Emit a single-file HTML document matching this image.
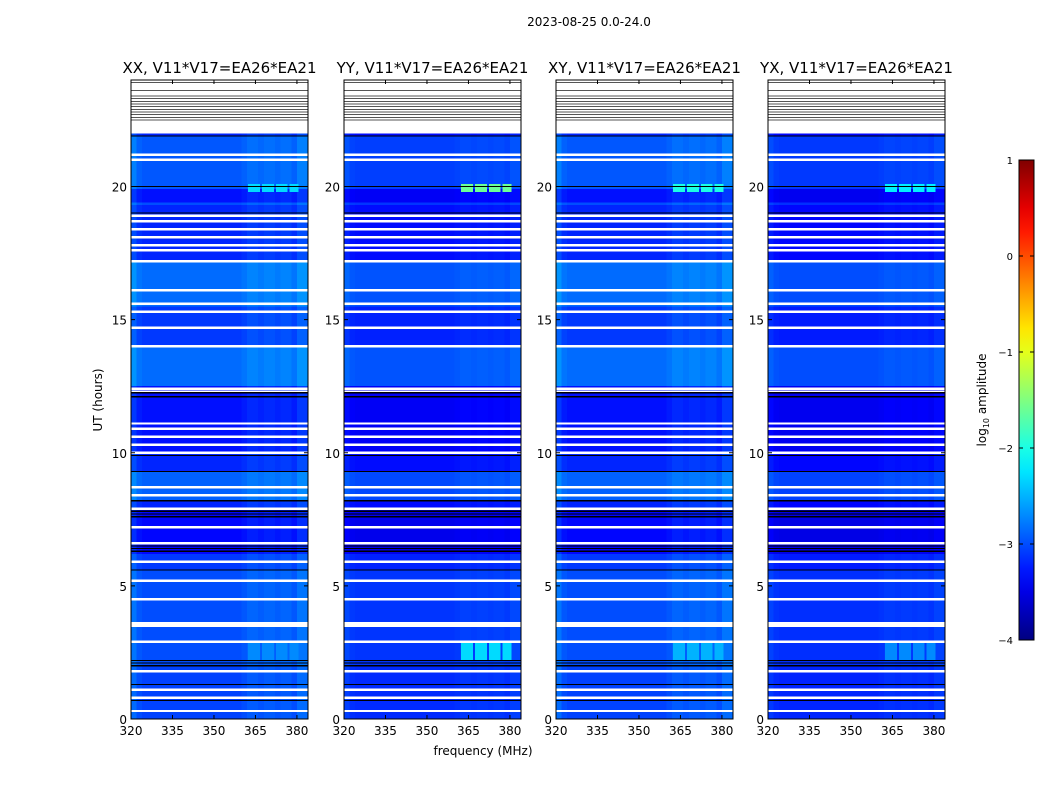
<!DOCTYPE html>
<html><head><meta charset="utf-8"><style>
body{margin:0;background:#fff;}
svg{display:block;font-family:"DejaVu Sans","Liberation Sans",sans-serif;}
</style></head><body>
<svg id="chart" width="1050" height="800" viewBox="0 0 1050 800" xmlns="http://www.w3.org/2000/svg">
<text x="589" y="26" font-size="12" text-anchor="middle">2023-08-25 0.0-24.0</text>
<text x="483" y="755" font-size="12" text-anchor="middle">frequency (MHz)</text>
<text transform="translate(102,400) rotate(-90)" font-size="12" text-anchor="middle">UT (hours)</text>
<g id="panels"></g>
<g id="cbar"></g>
</svg>
<script>
// ---- data ----
const panelTitles = ["XX, V11*V17=EA26*EA21","YY, V11*V17=EA26*EA21","XY, V11*V17=EA26*EA21","YX, V11*V17=EA26*EA21"];
const panelOffsets = [0, -0.12, 0, -0.15];
const xTicks = [320, 335, 350, 365, 380];
const yTicks = [0, 5, 10, 15, 20];
const cbarTicks = [1, 0, -1, -2, -3, -4];
// time segments: [startHour, endHour, log10 amplitude]
const segStart = [0, 2.0, 2.9, 5.6, 6.2, 7.9, 8.2, 9.3, 10.0, 12.5, 14.0, 15.5, 17.2, 19.3, 19.4, 19.9, 21.9];
const segEnd   = [2.0, 2.9, 5.6, 6.2, 7.9, 8.2, 9.3, 10.0, 12.5, 14.0, 15.5, 17.2, 19.3, 19.4, 19.9, 21.9, 22.0];
const segLevel = [-3.05, -3.0, -3.0, -3.1, -3.35, -3.2, -2.9, -3.2, -3.3, -2.85, -3.1, -2.85, -3.2, -3.0, -3.3, -2.95, -3.2];
// channel offsets (32 channels, 2 MHz each, 320-384 MHz)
const chanOffsets = [0.2,0.05,0,0,0,0,0,0,0,0,0,0,0,0,0,0,0,0,0,0,0.05,0.12,0.12,0.08,0.12,0.12,0.08,0.12,0.12,0.05,0.2,0.2];
// flagged (white) hours
const whiteHours = [0.3,0.8,1.1,1.8,2.9,3.5,3.6,4.5,5.2,5.9,6.6,7.2,7.9,8.4,8.7,10.0,10.3,10.6,10.9,11.1,12.3,12.4,14.0,14.7,15.3,15.6,16.1,17.2,17.6,17.8,18.1,18.4,18.7,18.9,21.0,21.2];
const blackHours = [0.7,1.3,2.0,2.1,2.2,5.6,6.3,6.4,6.5,7.6,7.7,7.8,8.2,9.3,9.9,12.1,12.25,19.0,20.0,21.9];
// RFI patches
const rfiPanel = [0,1,2,3,0,1,2,3];
const rfiH0 = [19.8,19.8,19.8,19.8,2.2,2.2,2.2,2.2];
const rfiH1 = [20.1,20.1,20.1,20.1,2.9,2.9,2.9,2.9];
const rfiLev = [-2.3,-1.6,-2.0,-2.2,-2.7,-2.3,-2.5,-2.7];
const topLines = [22.5,22.6,22.7,22.8,22.9,23.0,23.1,23.2,23.3,23.4,23.6,23.9];

const NS="http://www.w3.org/2000/svg";
function jet(v){
  const r=Math.min(Math.max(1.5-Math.abs(4*v-3),0),1);
  const g=Math.min(Math.max(1.5-Math.abs(4*v-2),0),1);
  const b=Math.min(Math.max(1.5-Math.abs(4*v-1),0),1);
  return `rgb(${Math.round(r*255)},${Math.round(g*255)},${Math.round(b*255)})`;
}
function col(l){return jet((l+4)/5);}
function mk(tag,attrs,parent){const e=document.createElementNS(NS,tag);for(const k in attrs)e.setAttribute(k,attrs[k]);parent.appendChild(e);return e;}
const panelX=[131,344,556,768], PW=177, PT=80, PB=719;
const yS=h=>PB-(h/24)*(PB-PT);
const xS=(px,f)=>px+(f-320)/64*PW;
const root=document.getElementById('panels');
panelX.forEach((px,p)=>{
  const g=mk('g',{},root);
  
  
  const t=mk('text',{x:px+PW/2,y:73,'font-size':15,'text-anchor':'middle'},g);
  t.textContent=panelTitles[p];
  
  
  const hm=mk('g',{'shape-rendering':'crispEdges'},g);
  
  
  for(let s=0;s<segStart.length;s++){
    for(let c=0;c<chanOffsets.length;c++){
      let l=segLevel[s]+panelOffsets[p]+((p==1||p==3)?chanOffsets[c]*0.5:chanOffsets[c]);
      const r=mk('rect',{x:xS(px,320+2*c),y:yS(segEnd[s]),width:PW/32+0.5,height:yS(segStart[s])-yS(segEnd[s]),fill:col(l)},hm);
      
      
    }
  }
  for(let i=0;i<rfiPanel.length;i++){ if(rfiPanel[i]!==p) continue;
    [[362,367],[367,372],[372,377],[377,381]].forEach(([f0,f1])=>{
      const r=mk('rect',{x:xS(px,f0)+1,y:yS(rfiH1[i]),width:xS(px,f1)-xS(px,f0)-2,height:yS(rfiH0[i])-yS(rfiH1[i]),fill:col(rfiLev[i])},hm);
      
      
    });
  }
  whiteHours.forEach(h=>{const r=mk('rect',{x:px,y:yS(h)-1.2,width:PW,height:2.4,fill:'#fff'},hm);
    
    });
  blackHours.forEach(h=>{const r=mk('rect',{x:px,y:yS(h)-0.6,width:PW,height:1.2,fill:'#000'},hm);
    
    });
  const tr=mk('rect',{x:px,y:PT,width:PW,height:yS(22)-PT,fill:'#fff'},hm);
  
  
  topLines.forEach(h=>{const r=mk('rect',{x:px,y:yS(h)-0.5,width:PW,height:1,fill:'#555','stroke-dasharray':'1 1'},hm);
    
    });
  const fr=mk('rect',{x:px,y:PT,width:PW,height:PB-PT,fill:'none',stroke:'#000','stroke-width':1},g);
  
  
  xTicks.forEach(f=>{const x=xS(px,f);
    mk('line',{x1:x,x2:x,y1:PB,y2:PB-4,stroke:'#000'},g);mk('line',{x1:x,x2:x,y1:PT,y2:PT+4,stroke:'#000'},g);
    const tl=mk('text',{x:x,y:PB+16,'font-size':12,'text-anchor':'middle'},g);tl.textContent=f;
    
    });
  yTicks.forEach(h=>{const y=yS(h);
    mk('line',{x1:px,x2:px+4,y1:y,y2:y,stroke:'#000'},g);mk('line',{x1:px+PW,x2:px+PW-4,y1:y,y2:y,stroke:'#000'},g);
    const tl=mk('text',{x:px-4,y:y+5,'font-size':12,'text-anchor':'end'},g);tl.textContent=h;
    
    });
});
const cb=document.getElementById('cbar');
const defs=mk('defs',{},cb);
const lg=mk('linearGradient',{id:'jetg',x1:0,y1:1,x2:0,y2:0},defs);
for(let i=0;i<=20;i++)mk('stop',{offset:i/20,'stop-color':jet(i/20)},lg);
mk('rect',{x:1019,y:160,width:15,height:480,fill:'url(#jetg)',stroke:'#000','stroke-width':1},cb);
cbarTicks.forEach(v=>{const y=160+(1-v)/5*480;
  mk('line',{x1:1019,x2:1023,y1:y,y2:y,stroke:'#000'},cb);mk('line',{x1:1034,x2:1030,y1:y,y2:y,stroke:'#000'},cb);
  const t=mk('text',{x:1013,y:y+4,'font-size':10,'text-anchor':'end'},cb);t.textContent=v<0?'\u2212'+(-v):v;
  
  });
const cl=mk('text',{transform:'translate(986,400) rotate(-90)','font-size':12,'text-anchor':'middle'},cb);
cl.innerHTML='log<tspan font-size="8" dy="3">10</tspan><tspan dy="-3"> amplitude</tspan>';


</script>
</body></html>
